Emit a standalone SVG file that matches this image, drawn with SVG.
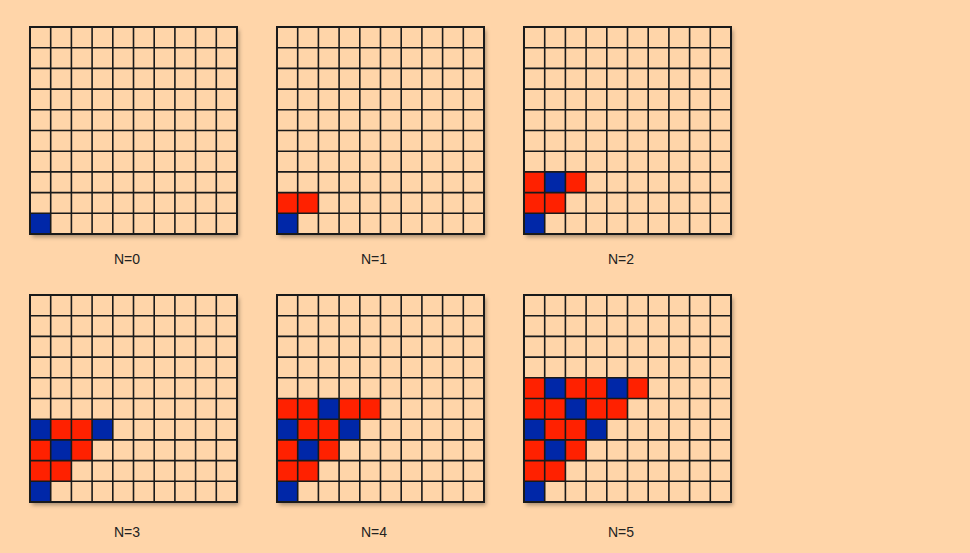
<svg xmlns="http://www.w3.org/2000/svg" xmlns:xlink="http://www.w3.org/1999/xlink" width="970" height="553" viewBox="0 0 970 553">
<defs>
<style>
.bg{fill:#FFD5A9}
.cell{fill:#FFD5A9}
.r{fill:#FF2100}
.b{fill:#0027A8}
.ln{fill:none;stroke:#1a1a1a;stroke-width:1.6}
.bd{fill:none;stroke:#1a1a1a;stroke-width:2}
.lbl{font-family:"Liberation Sans",Arial,sans-serif;font-size:14px;fill:#222;text-anchor:middle}
</style>
<filter id="sh" x="-10%" y="-10%" width="130%" height="130%">
<feDropShadow dx="2" dy="3" stdDeviation="2" flood-color="#000" flood-opacity="0.35"/>
</filter>
<rect id="base" x="0" y="0" width="207" height="207" class="cell" filter="url(#sh)"/>
<g id="lines">
<path class="ln" d="M20.7 0V207M41.4 0V207M62.1 0V207M82.8 0V207M103.5 0V207M124.2 0V207M144.9 0V207M165.6 0V207M186.3 0V207M0 20.7H207M0 41.4H207M0 62.1H207M0 82.8H207M0 103.5H207M0 124.2H207M0 144.9H207M0 165.6H207M0 186.3H207"/>
<rect class="bd" x="0" y="0" width="207" height="207"/>
</g>
</defs>
<rect class="bg" x="0" y="0" width="970" height="553"/>
<g id="grid-n0" transform="translate(30,27)">
<use xlink:href="#base"/>
<rect class="b" x="0" y="186.3" width="20.7" height="20.7"/>
<use xlink:href="#lines"/>
</g>
<g id="grid-n1" transform="translate(277,27)">
<use xlink:href="#base"/>
<rect class="b" x="0" y="186.3" width="20.7" height="20.7"/>
<rect class="r" x="0" y="165.6" width="20.7" height="20.7"/>
<rect class="r" x="20.7" y="165.6" width="20.7" height="20.7"/>
<use xlink:href="#lines"/>
</g>
<g id="grid-n2" transform="translate(524,27)">
<use xlink:href="#base"/>
<rect class="b" x="0" y="186.3" width="20.7" height="20.7"/>
<rect class="r" x="0" y="165.6" width="20.7" height="20.7"/>
<rect class="r" x="20.7" y="165.6" width="20.7" height="20.7"/>
<rect class="r" x="0" y="144.9" width="20.7" height="20.7"/>
<rect class="b" x="20.7" y="144.9" width="20.7" height="20.7"/>
<rect class="r" x="41.4" y="144.9" width="20.7" height="20.7"/>
<use xlink:href="#lines"/>
</g>
<g id="grid-n3" transform="translate(30,295)">
<use xlink:href="#base"/>
<rect class="b" x="0" y="186.3" width="20.7" height="20.7"/>
<rect class="r" x="0" y="165.6" width="20.7" height="20.7"/>
<rect class="r" x="20.7" y="165.6" width="20.7" height="20.7"/>
<rect class="r" x="0" y="144.9" width="20.7" height="20.7"/>
<rect class="b" x="20.7" y="144.9" width="20.7" height="20.7"/>
<rect class="r" x="41.4" y="144.9" width="20.7" height="20.7"/>
<rect class="b" x="0" y="124.2" width="20.7" height="20.7"/>
<rect class="r" x="20.7" y="124.2" width="20.7" height="20.7"/>
<rect class="r" x="41.4" y="124.2" width="20.7" height="20.7"/>
<rect class="b" x="62.1" y="124.2" width="20.7" height="20.7"/>
<use xlink:href="#lines"/>
</g>
<g id="grid-n4" transform="translate(277,295)">
<use xlink:href="#base"/>
<rect class="b" x="0" y="186.3" width="20.7" height="20.7"/>
<rect class="r" x="0" y="165.6" width="20.7" height="20.7"/>
<rect class="r" x="20.7" y="165.6" width="20.7" height="20.7"/>
<rect class="r" x="0" y="144.9" width="20.7" height="20.7"/>
<rect class="b" x="20.7" y="144.9" width="20.7" height="20.7"/>
<rect class="r" x="41.4" y="144.9" width="20.7" height="20.7"/>
<rect class="b" x="0" y="124.2" width="20.7" height="20.7"/>
<rect class="r" x="20.7" y="124.2" width="20.7" height="20.7"/>
<rect class="r" x="41.4" y="124.2" width="20.7" height="20.7"/>
<rect class="b" x="62.1" y="124.2" width="20.7" height="20.7"/>
<rect class="r" x="0" y="103.5" width="20.7" height="20.7"/>
<rect class="r" x="20.7" y="103.5" width="20.7" height="20.7"/>
<rect class="b" x="41.4" y="103.5" width="20.7" height="20.7"/>
<rect class="r" x="62.1" y="103.5" width="20.7" height="20.7"/>
<rect class="r" x="82.8" y="103.5" width="20.7" height="20.7"/>
<use xlink:href="#lines"/>
</g>
<g id="grid-n5" transform="translate(524,295)">
<use xlink:href="#base"/>
<rect class="b" x="0" y="186.3" width="20.7" height="20.7"/>
<rect class="r" x="0" y="165.6" width="20.7" height="20.7"/>
<rect class="r" x="20.7" y="165.6" width="20.7" height="20.7"/>
<rect class="r" x="0" y="144.9" width="20.7" height="20.7"/>
<rect class="b" x="20.7" y="144.9" width="20.7" height="20.7"/>
<rect class="r" x="41.4" y="144.9" width="20.7" height="20.7"/>
<rect class="b" x="0" y="124.2" width="20.7" height="20.7"/>
<rect class="r" x="20.7" y="124.2" width="20.7" height="20.7"/>
<rect class="r" x="41.4" y="124.2" width="20.7" height="20.7"/>
<rect class="b" x="62.1" y="124.2" width="20.7" height="20.7"/>
<rect class="r" x="0" y="103.5" width="20.7" height="20.7"/>
<rect class="r" x="20.7" y="103.5" width="20.7" height="20.7"/>
<rect class="b" x="41.4" y="103.5" width="20.7" height="20.7"/>
<rect class="r" x="62.1" y="103.5" width="20.7" height="20.7"/>
<rect class="r" x="82.8" y="103.5" width="20.7" height="20.7"/>
<rect class="r" x="0" y="82.8" width="20.7" height="20.7"/>
<rect class="b" x="20.7" y="82.8" width="20.7" height="20.7"/>
<rect class="r" x="41.4" y="82.8" width="20.7" height="20.7"/>
<rect class="r" x="62.1" y="82.8" width="20.7" height="20.7"/>
<rect class="b" x="82.8" y="82.8" width="20.7" height="20.7"/>
<rect class="r" x="103.5" y="82.8" width="20.7" height="20.7"/>
<use xlink:href="#lines"/>
</g>
<g id="labels">
<text class="lbl" x="127" y="264">N=0</text>
<text class="lbl" x="374" y="264">N=1</text>
<text class="lbl" x="621" y="264">N=2</text>
<text class="lbl" x="127" y="537">N=3</text>
<text class="lbl" x="374" y="537">N=4</text>
<text class="lbl" x="621" y="537">N=5</text>
</g>
</svg>
